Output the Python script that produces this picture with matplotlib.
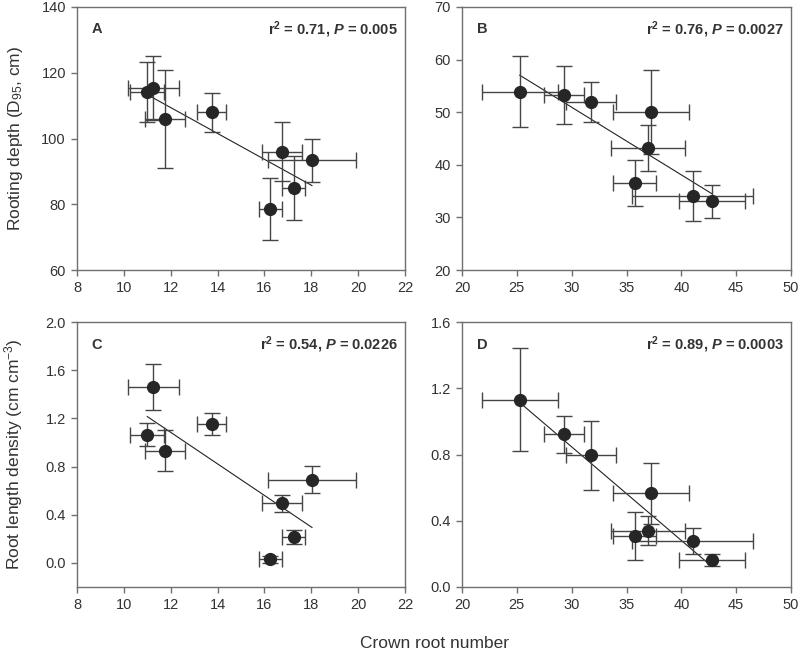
import numpy as np
import matplotlib
matplotlib.use("Agg")
import matplotlib.pyplot as plt

plt.rcParams['font.family'] = ['Liberation Sans', 'DejaVu Sans']
plt.rcParams['mathtext.fontset'] = 'custom'
plt.rcParams['mathtext.rm'] = 'Liberation Sans'
plt.rcParams['mathtext.it'] = 'Liberation Sans:italic'
plt.rcParams['mathtext.bf'] = 'Liberation Sans:bold'
plt.rcParams['mathtext.bfit'] = 'Liberation Sans:bold:italic'

# panels A and C share the crown root numbers, so do B and D
crown_ac = [11.0, 11.26, 11.76, 13.75, 16.75, 18.03, 17.26, 16.25]
crown_ac_err = [0.72, 1.1, 0.87, 0.63, 0.85, 1.88, 0.49, 0.48]
crown_bd = [25.26, 29.3, 31.76, 37.23, 37.0, 35.77, 41.03, 42.76]
crown_bd_err = [3.47, 1.8, 2.3, 3.45, 3.37, 1.96, 5.5, 3.0]

depth_a = [114.1, 115.3, 105.9, 108.0, 96.0, 93.4, 85.0, 78.6]
depth_a_err = [9.2, 9.8, 14.8, 5.9, 9.0, 6.5, 9.8, 9.4]
depth_b = [53.9, 53.27, 51.94, 49.98, 43.2, 36.54, 34.1, 33.05]
depth_b_err = [6.7, 5.6, 3.8, 8.0, 4.3, 4.3, 4.8, 3.1]

rld_c = [1.064, 1.463, 0.931, 1.156, 0.495, 0.691, 0.215, 0.03]
rld_c_err = [0.095, 0.19, 0.17, 0.09, 0.07, 0.11, 0.062, 0.03]
rld_d = [1.132, 0.921, 0.795, 0.565, 0.341, 0.307, 0.278, 0.164]
rld_d_err = [0.31, 0.112, 0.21, 0.185, 0.085, 0.145, 0.077, 0.037]

letters = ["A", "B", "C", "D"]
stats = [r"r$^{\mathbf{2}}$ = 0.71, $\mathbfit{P}$ = 0.005",
         r"r$^{\mathbf{2}}$ = 0.76, $\mathbfit{P}$ = 0.0027",
         r"r$^{\mathbf{2}}$ = 0.54, $\mathbfit{P}$ = 0.0226",
         r"r$^{\mathbf{2}}$ = 0.89, $\mathbfit{P}$ = 0.0003"]

fig = plt.figure(figsize=(8, 6.52), dpi=100)
W, H = 800, 652

def box(l, t, r, b):
    return [l / W, 1 - b / H, (r - l) / W, (b - t) / H]

axA = fig.add_axes(box(77, 7, 405, 270))
axB = fig.add_axes(box(462, 7, 791, 270))
axC = fig.add_axes(box(77, 322, 405, 587))
axD = fig.add_axes(box(462, 322, 791, 587))

panels = [
    (axA, crown_ac, crown_ac_err, depth_a, depth_a_err, (8, 22), np.arange(8, 23, 2), (60, 140), np.arange(60, 141, 20), "%d"),
    (axB, crown_bd, crown_bd_err, depth_b, depth_b_err, (20, 50), np.arange(20, 51, 5), (20, 70), np.arange(20, 71, 10), "%d"),
    (axC, crown_ac, crown_ac_err, rld_c, rld_c_err, (8, 22), np.arange(8, 23, 2), (-0.2, 2.0), np.arange(0, 2.01, 0.4), "%.1f"),
    (axD, crown_bd, crown_bd_err, rld_d, rld_d_err, (20, 50), np.arange(20, 51, 5), (0, 1.6), np.arange(0, 1.61, 0.4), "%.1f"),
]

frame = "#707070"
for i, (ax, x, xe, y, ye, xl, xt, yl, yt, fmt) in enumerate(panels):
    # regression line over the observed range
    k, c = np.polyfit(x, y, 1)
    xs = np.array([min(x), max(x)])
    ax.plot(xs, k * xs + c, color="#222222", lw=0.8, zorder=2)
    ax.errorbar(x, y, xerr=xe, yerr=ye, fmt="o", ms=8.5, color="#262626",
                ecolor="#454545", elinewidth=1.0, capsize=6, capthick=1.0, zorder=3)
    ax.set_xlim(xl)
    ax.set_ylim(yl)
    ax.set_xticks(xt)
    ax.set_yticks(yt)
    ax.set_yticklabels([fmt % v for v in yt])
    for s in ax.spines.values():
        s.set_color(frame)
        s.set_linewidth(1.0)
    ax.tick_params(direction="out", length=4, width=1.0, color=frame,
                   labelsize=10.5, labelcolor="#333333", pad=4)
    ax.text(0.045, 0.915, letters[i], transform=ax.transAxes, fontsize=10.5,
            fontweight="bold", color="#333333", ha="left", va="center")
    ax.text(0.978, 0.915, stats[i], transform=ax.transAxes, fontsize=10.5,
            fontweight="bold", color="#333333", ha="right", va="center")

axA.set_ylabel(r"Rooting depth (D$_{95}$, cm)", fontsize=12.5, color="#333333")
axA.yaxis.set_label_coords(-0.16, 0.5)
axC.set_ylabel(r"Root length density (cm cm$^{-3}$)", fontsize=12.5, color="#333333")
axC.yaxis.set_label_coords(-0.16, 0.5)

fig.text(434 / W, 1 - 644 / H, "Crown root number", fontsize=12.5,
         color="#333333", ha="center", va="center")

plt.savefig("out.png", dpi=100)
